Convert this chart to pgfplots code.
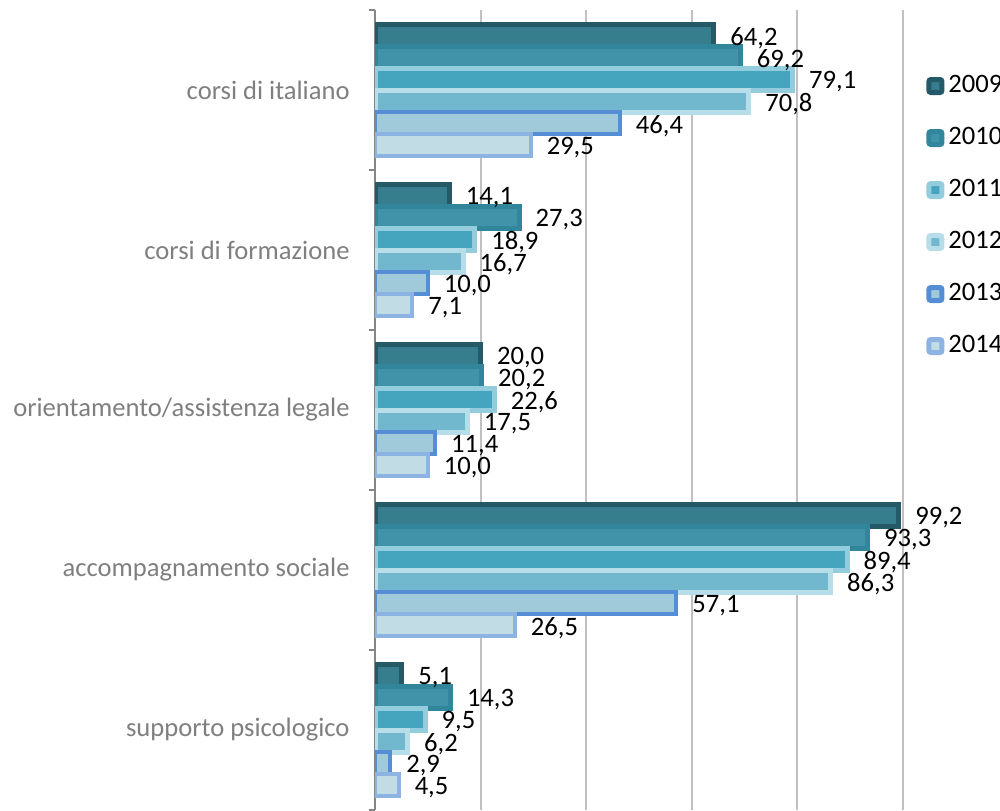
\documentclass[border=0pt]{standalone}
\usepackage{fontspec}
\setmainfont{Carlito}
\usepackage{pgfplots}
\pgfplotsset{compat=1.18}

% bar colours: border / fill
\definecolor{b09}{HTML}{245A67}\definecolor{f09}{HTML}{367D8E}
\definecolor{b10}{HTML}{31869B}\definecolor{f10}{HTML}{4193A9}
\definecolor{b11}{HTML}{93CDDD}\definecolor{f11}{HTML}{46A5BE}
\definecolor{b12}{HTML}{B7DDE8}\definecolor{f12}{HTML}{71B7CD}
\definecolor{b13}{HTML}{558ED5}\definecolor{f13}{HTML}{A0CADA}
\definecolor{b14}{HTML}{8DB3E2}\definecolor{f14}{HTML}{C2DCE5}
\definecolor{gridgray}{HTML}{C0C0C0}
\definecolor{axgray}{HTML}{868686}
\definecolor{labgray}{HTML}{7F7F7F}

\newcommand{\chartfont}{\fontsize{13.3}{16}\selectfont}

\begin{document}
\begin{tikzpicture}
\path[use as bounding box] (0,0) rectangle (500pt,405pt);
\clip (0,0) rectangle (500pt,405pt);
\begin{axis}[
    at={(187.5pt,0pt)}, anchor=south west,
    scale only axis,
    width=264pt, height=400pt,
    xmin=0, xmax=100,
    ymin=-0.5, ymax=4.5,
    y dir=reverse,
    xbar=0pt, bar width=11pt,
    /pgf/number format/.cd, fixed, fixed zerofill, precision=1, use comma, assume math mode=true,
    /pgfplots/.cd,
    axis y line*=left, axis x line*=bottom,
    x axis line style={draw=none},
    y axis line style={draw=axgray, line width=1pt},
    xtick={20,40,60,80,100},
    xticklabels={},
    major x tick style={draw=none},
    xmajorgrids,
    grid style={color=gridgray, line width=1pt},
    ytick={0,1,2,3,4},
    yticklabels={corsi di italiano, corsi di formazione, orientamento/assistenza legale, accompagnamento sociale, supporto psicologico},
    major y tick style={draw=none},
    minor ytick={-0.5,0.5,1.5,2.5,3.5,4.5},
    minor y tick style={draw=axgray, line width=1pt},
    minor tick length=3pt,
    major tick length=0pt,
    tick align=outside,
    yticklabel style={font=\chartfont, text=labgray, inner sep=0pt, xshift=-12.5pt},
    nodes near coords,
    every node near coord/.append style={anchor=west, inner sep=1pt, xshift=6pt, yshift=-1.5pt, text=black, font=\chartfont},
    legend image code/.code={\draw[#1, line width=2.5pt, rounded corners=1pt] (1.25pt,-3.25pt) rectangle (7.75pt,3.25pt);},
    legend cell align=left,
    legend style={at={(1.0436,0.7425)}, anchor=west, draw=none, fill=none, inner sep=0pt,
        row sep=10pt,
        nodes={inner sep=2pt, text height=9pt, text depth=3pt, font=\chartfont}},
]
\addplot[draw=b09, fill=f09, line width=2.5pt, bar shift=27.5pt] coordinates {(64.2,0) (14.1,1) (20.0,2) (99.2,3) (5.1,4)};
\addplot[draw=b10, fill=f10, line width=2.5pt, bar shift=16.5pt] coordinates {(69.2,0) (27.3,1) (20.2,2) (93.3,3) (14.3,4)};
\addplot[draw=b11, fill=f11, line width=2.5pt, bar shift=5.5pt] coordinates {(79.1,0) (18.9,1) (22.6,2) (89.4,3) (9.5,4)};
\addplot[draw=b12, fill=f12, line width=2.5pt, bar shift=-5.5pt] coordinates {(70.8,0) (16.7,1) (17.5,2) (86.3,3) (6.2,4)};
\addplot[draw=b13, fill=f13, line width=2pt, bar shift=-16.5pt] coordinates {(46.4,0) (10.0,1) (11.4,2) (57.1,3) (2.9,4)};
\addplot[draw=b14, fill=f14, line width=2pt, bar shift=-27.5pt] coordinates {(29.5,0) (7.1,1) (10.0,2) (26.5,3) (4.5,4)};
\legend{2009,2010,2011,2012,2013,2014}
\end{axis}
\end{tikzpicture}
\end{document}
